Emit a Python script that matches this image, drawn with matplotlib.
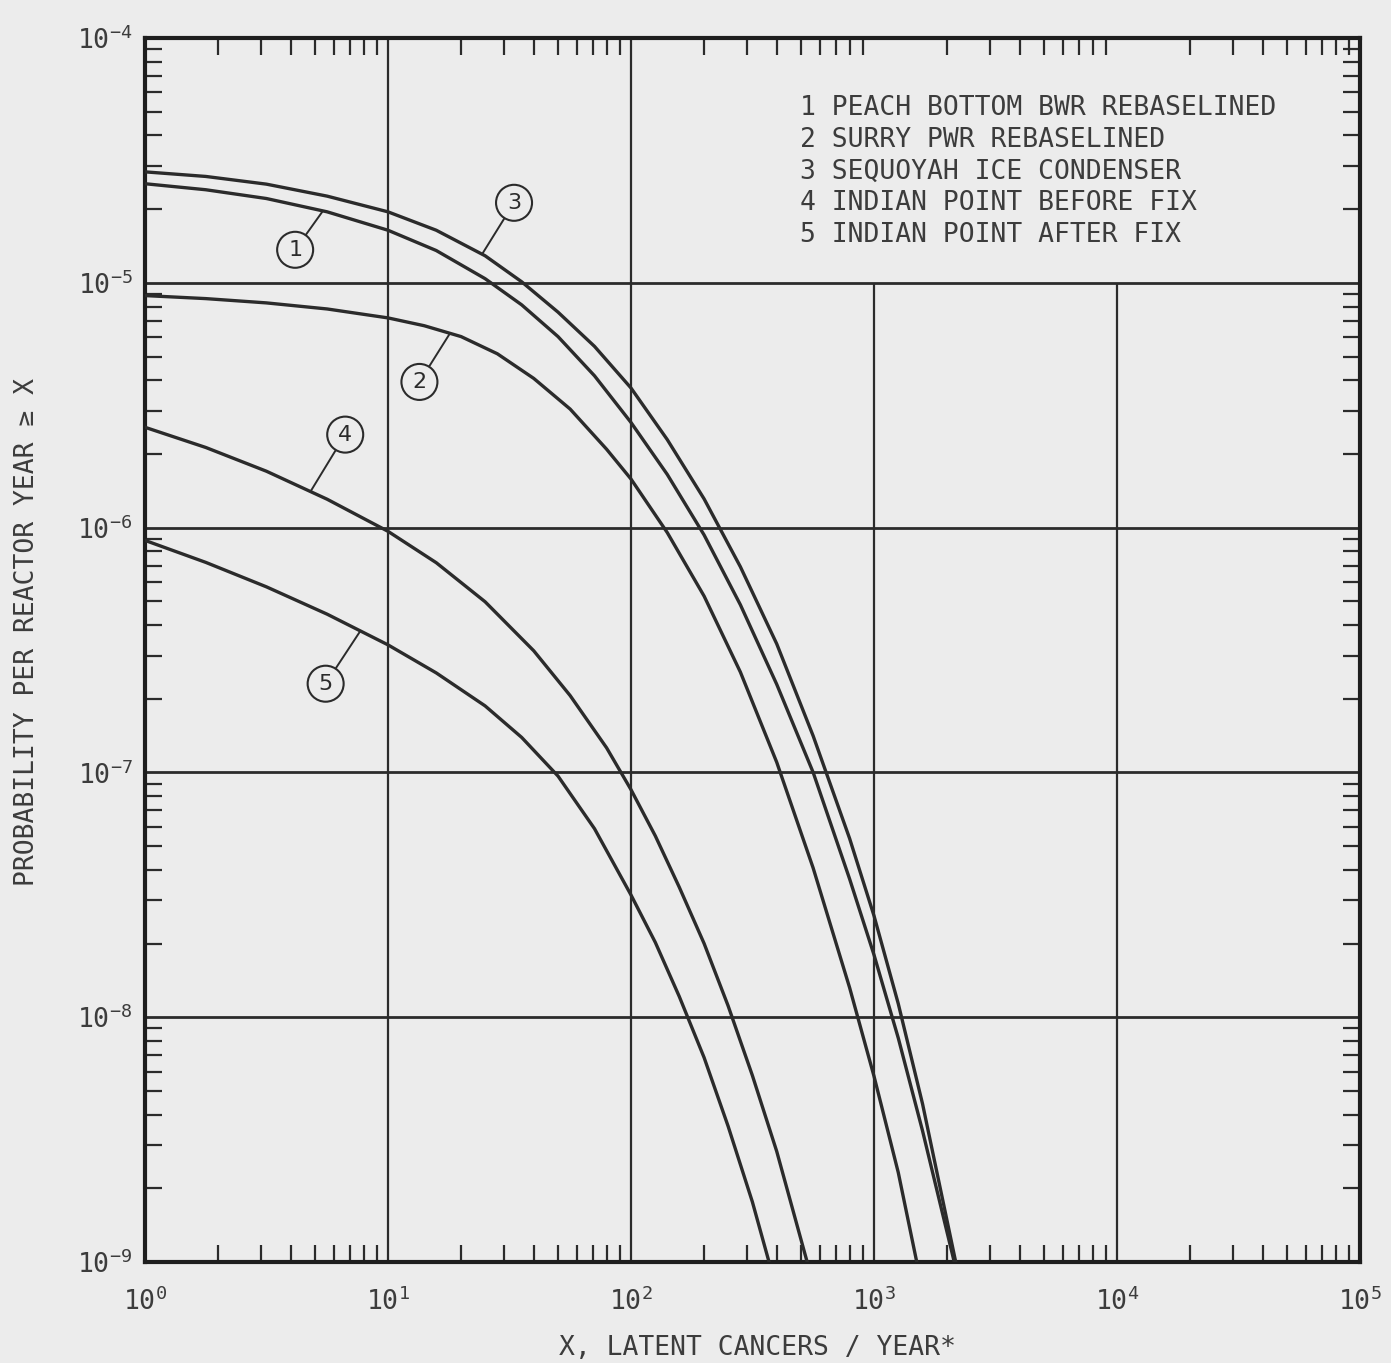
import numpy as np
import matplotlib
matplotlib.use("Agg")
import matplotlib.pyplot as plt

# curve values
# x = latent cancers / year, y = probability per reactor year >= x
x_peach = [1, 1.78, 3.16, 5.62, 10, 15.8, 25.1, 35.5, 50.1, 70.8, 100, 141, 200,
           282, 398, 562, 794, 1000, 1259, 1585, 2140]
y_peach = [2.54e-5, 2.40e-5, 2.21e-5, 1.95e-5, 1.64e-5, 1.355e-5, 1.04e-5, 8.13e-6,
           6.03e-6, 4.17e-6, 2.69e-6, 1.65e-6, 9.33e-7, 4.84e-7, 2.29e-7, 1.0e-7,
           3.67e-8, 1.80e-8, 8.22e-9, 3.43e-9, 1.0e-9]

x_surry = [1, 1.78, 3.16, 5.62, 10, 14.1, 20, 28.2, 39.8, 56.2, 79.4, 100, 141, 200,
           282, 398, 562, 794, 1000, 1259, 1500]
y_surry = [8.87e-6, 8.62e-6, 8.28e-6, 7.82e-6, 7.19e-6, 6.68e-6, 6.03e-6, 5.13e-6,
           4.07e-6, 3.05e-6, 2.09e-6, 1.58e-6, 9.55e-7, 5.25e-7, 2.57e-7, 1.10e-7,
           4.07e-8, 1.32e-8, 5.75e-9, 2.32e-9, 1.0e-9]

x_sequoyah = [1, 1.78, 3.16, 5.62, 10, 15.8, 25.1, 35.5, 50.1, 70.8, 100, 141, 200,
              282, 398, 562, 794, 1000, 1259, 1585, 2170]
y_sequoyah = [2.84e-5, 2.72e-5, 2.53e-5, 2.26e-5, 1.95e-5, 1.64e-5, 1.29e-5, 1.01e-5,
              7.59e-6, 5.50e-6, 3.72e-6, 2.29e-6, 1.31e-6, 6.92e-7, 3.35e-7, 1.41e-7,
              5.37e-8, 2.60e-8, 1.135e-8, 4.42e-9, 1.0e-9]

x_ip_before = [1, 1.78, 3.16, 5.62, 10, 15.8, 25.1, 39.8, 56.2, 79.4, 100, 126, 158,
               200, 251, 316, 398, 531]
y_ip_before = [2.57e-6, 2.125e-6, 1.70e-6, 1.306e-6, 9.66e-7, 7.19e-7, 4.98e-7, 3.14e-7,
               2.06e-7, 1.26e-7, 8.51e-8, 5.50e-8, 3.40e-8, 2.00e-8, 1.114e-8, 5.78e-9,
               2.83e-9, 1.0e-9]

x_ip_after = [1, 1.78, 3.16, 5.62, 10, 15.8, 25.1, 35.5, 50.1, 70.8, 100, 126, 158,
              200, 251, 316, 370]
y_ip_after = [8.87e-7, 7.21e-7, 5.73e-7, 4.43e-7, 3.32e-7, 2.55e-7, 1.87e-7, 1.39e-7,
              9.66e-8, 5.89e-8, 3.16e-8, 2.02e-8, 1.216e-8, 6.84e-9, 3.59e-9, 1.76e-9,
              1.0e-9]

names = ["PEACH BOTTOM BWR REBASELINED",
         "SURRY PWR REBASELINED",
         "SEQUOYAH ICE CONDENSER",
         "INDIAN POINT BEFORE FIX",
         "INDIAN POINT AFTER FIX"]

# where the circled numbers point on each curve, and where the circle sits (offset, points)
label_x = [5.4, 18, 24.4, 4.8, 7.7]
label_off = [(-20, -28), (-22, -35), (23, 37), (25, 41), (-25, -38)]

bg = "#ececec"
ink = "#2b2b2b"
txt = "#3c3c3c"

plt.rcParams["font.family"] = ["DejaVu Sans Mono", "DejaVu Sans"]
plt.rcParams["mathtext.default"] = "regular"

fig = plt.figure(figsize=(13.91, 13.63), dpi=100, facecolor=bg)
ax = fig.add_axes([0.1042, 0.0741, 0.8735, 0.8980], facecolor=bg)
ax.set_xscale("log")
ax.set_yscale("log")
ax.set_xlim(1, 1e5)
ax.set_ylim(1e-9, 1e-4)

# grid: horizontal lines everywhere, upper right corner left free for the key
for yv in [1e-8, 1e-7, 1e-6, 1e-5]:
    ax.axhline(yv, color=ink, lw=2.0, zorder=1)
ax.vlines([10, 100], 1e-9, 1e-4, color=ink, lw=1.6, zorder=1)
ax.vlines([1e3, 1e4], 1e-9, 1e-5, color=ink, lw=1.6, zorder=1)

curves = [(x_peach, y_peach), (x_surry, y_surry), (x_sequoyah, y_sequoyah),
          (x_ip_before, y_ip_before), (x_ip_after, y_ip_after)]
for xs, ys in curves:
    ax.plot(xs, ys, color=ink, lw=2.4, zorder=3, solid_joinstyle="round")

# circled numbers
for i, (xs, ys) in enumerate(curves):
    lx = label_x[i]
    ly = 10 ** np.interp(np.log10(lx), np.log10(xs), np.log10(ys))
    ax.annotate(str(i + 1), xy=(lx, ly), xytext=label_off[i], textcoords="offset points",
                ha="center", va="center", fontsize=16, color=ink, family="DejaVu Sans",
                bbox=dict(boxstyle="circle,pad=0.36", fc="none", ec=ink, lw=1.5),
                arrowprops=dict(arrowstyle="-", color=ink, lw=1.4, shrinkA=0, shrinkB=0),
                zorder=4)

# key in the upper right
key = "\n".join(f"{i + 1} {n}" for i, n in enumerate(names))
ax.text(0.539, 0.9534, key, transform=ax.transAxes, ha="left", va="top",
        fontsize=19, color=txt, linespacing=1.29)

for s in ax.spines.values():
    s.set_linewidth(3)
    s.set_color("#1e1e1e")

ax.tick_params(which="major", length=0, labelsize=19, colors=txt)
ax.tick_params(axis="x", which="major", pad=18)
ax.tick_params(axis="y", which="major", pad=9)
ax.tick_params(which="minor", direction="in", length=12, width=1.6,
               top=True, right=True, color=ink, labelleft=False, labelbottom=False)
ax.set_xticks([1, 10, 100, 1e3, 1e4, 1e5])
ax.set_yticks([1e-9, 1e-8, 1e-7, 1e-6, 1e-5, 1e-4])

ax.set_xlabel("X, LATENT CANCERS / YEAR*", fontsize=19, color=txt)
ax.set_ylabel("PROBABILITY PER REACTOR YEAR ≥ X", fontsize=19, color=txt)
ax.xaxis.set_label_coords(0.5045, -0.0596)
ax.yaxis.set_label_coords(-0.0865, 0.515)

fig.savefig("out.png", dpi=100, facecolor=bg)
